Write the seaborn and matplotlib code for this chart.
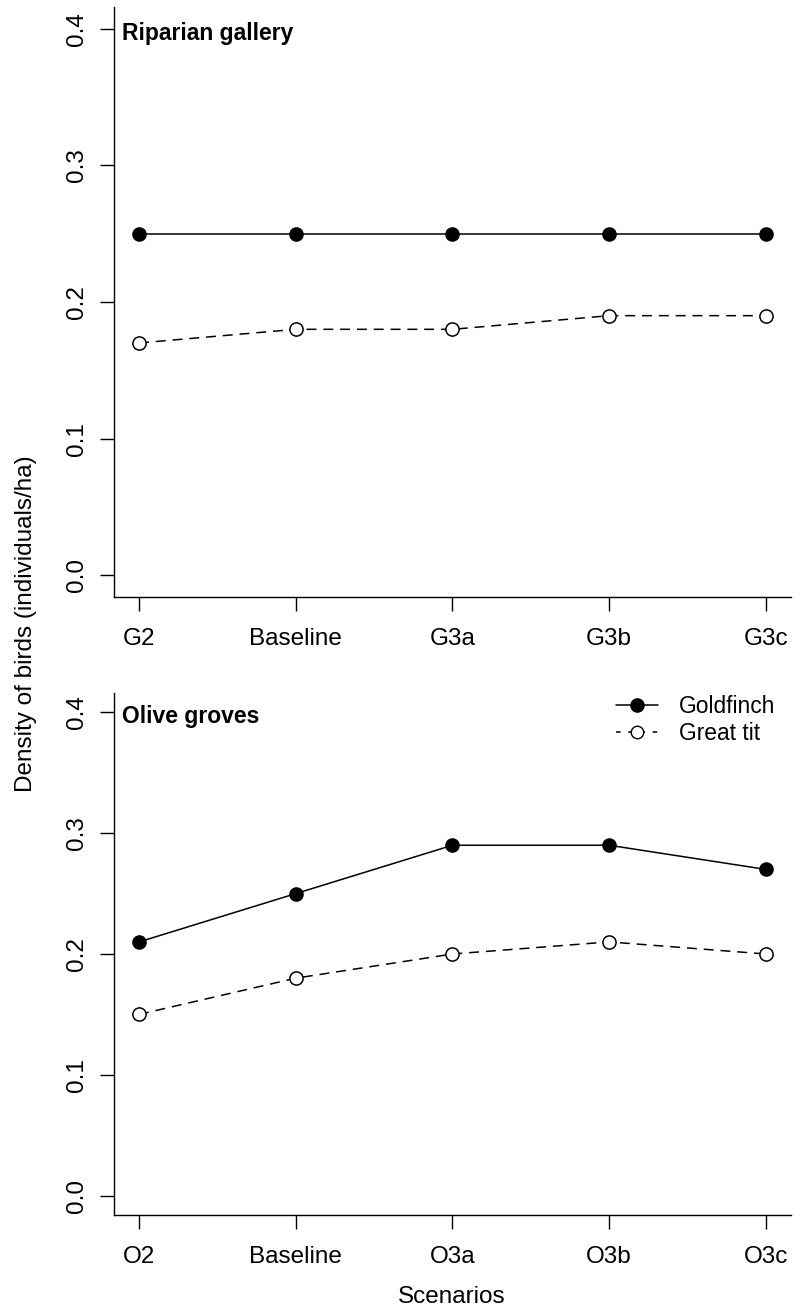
import pandas as pd
import seaborn as sns
import matplotlib.pyplot as plt
from matplotlib.lines import Line2D

# ------------------- Data -------------------
riparian_scenarios = ['G2', 'Baseline', 'G3a', 'G3b', 'G3c']
riparian_goldfinch = [0.25, 0.25, 0.25, 0.25, 0.25]
riparian_great_tit = [0.17, 0.18, 0.18, 0.19, 0.19]

olive_scenarios = ['O2', 'Baseline', 'O3a', 'O3b', 'O3c']
olive_goldfinch = [0.21, 0.25, 0.29, 0.29, 0.27]
olive_great_tit = [0.15, 0.18, 0.20, 0.21, 0.20]

y_ticks = [0.0, 0.1, 0.2, 0.3, 0.4]

# ------------------- Style -------------------
sns.set_style('ticks')
plt.rcParams['font.family'] = ['Liberation Sans', 'DejaVu Sans']
plt.rcParams.update({
    'axes.linewidth': 1.0,
    'axes.edgecolor': 'black',
    'text.color': 'black',
    'axes.labelcolor': 'black',
    'xtick.color': 'black',
    'ytick.color': 'black',
})

W, H = 794, 1311
fig = plt.figure(figsize=(W / 100, H / 100), dpi=100)


def px_axes(left, top, right, bottom):
    return fig.add_axes([left / W, 1 - bottom / H, (right - left) / W, (bottom - top) / H])


ax_top = px_axes(114, 7, 791, 597)
ax_bot = px_axes(114, 693, 791, 1215)

FS_TICK = 17.5
DASH = (0, (6.5, 4.5))


def draw_panel(ax, scenarios, goldfinch, great_tit, title):
    df = pd.DataFrame({'Scenario': scenarios, 'Goldfinch': goldfinch, 'Great tit': great_tit})
    sns.lineplot(data=df, x='Scenario', y='Goldfinch', ax=ax, sort=False, color='black',
                 linewidth=1.1, marker='o', markersize=9.5, markerfacecolor='black',
                 markeredgecolor='black', markeredgewidth=1.0, label='Goldfinch', legend=False)
    sns.lineplot(data=df, x='Scenario', y='Great tit', ax=ax, sort=False, color='black',
                 linewidth=1.1, linestyle=DASH, marker='o', markersize=9.5,
                 markerfacecolor='white', markeredgecolor='black', markeredgewidth=1.1,
                 label='Great tit', legend=False)
    ax.set_xlim(-0.16, 4.16)
    ax.set_ylim(-0.016, 0.416)
    ax.set_yticks(y_ticks)
    ax.set_yticklabels([f'{v:.1f}' for v in y_ticks], rotation=90, va='center')
    ax.set_xlabel('')
    ax.set_ylabel('')
    ax.tick_params(axis='both', length=10, width=1.0, labelsize=FS_TICK, color='black')
    ax.tick_params(axis='y', pad=9)
    ax.tick_params(axis='x', pad=12)
    sns.despine(ax=ax)
    ax.text(0.012, 0.955, title, transform=ax.transAxes, fontsize=16.5,
            fontweight='bold', ha='left', va='center')


draw_panel(ax_top, riparian_scenarios, riparian_goldfinch, riparian_great_tit, 'Riparian gallery')
draw_panel(ax_bot, olive_scenarios, olive_goldfinch, olive_great_tit, 'Olive groves')

# legend in the lower panel
handles = [
    Line2D([], [], color='black', lw=1.1, marker='o', markersize=9.5,
           markerfacecolor='black', markeredgecolor='black'),
    Line2D([], [], color='black', lw=1.1, ls=(0, (3, 5)), marker='o', markersize=9,
           markerfacecolor='white', markeredgecolor='black'),
]
ax_bot.legend(handles, ['Goldfinch', 'Great tit'], loc='upper left',
              bbox_to_anchor=(616 / W, 1 - 695 / H), bbox_transform=fig.transFigure,
              frameon=False, fontsize=16.4, handlelength=1.85, handletextpad=0.9,
              labelspacing=0.18, borderpad=0, borderaxespad=0)

fig.text(26 / W, 1 - 624 / H, 'Density of birds (individuals/ha)', rotation=90,
         ha='center', va='center', fontsize=FS_TICK)
fig.text(452 / W, 1 - 1297 / H, 'Scenarios', ha='center', va='center', fontsize=FS_TICK)

fig.savefig('out.png', dpi=100)
